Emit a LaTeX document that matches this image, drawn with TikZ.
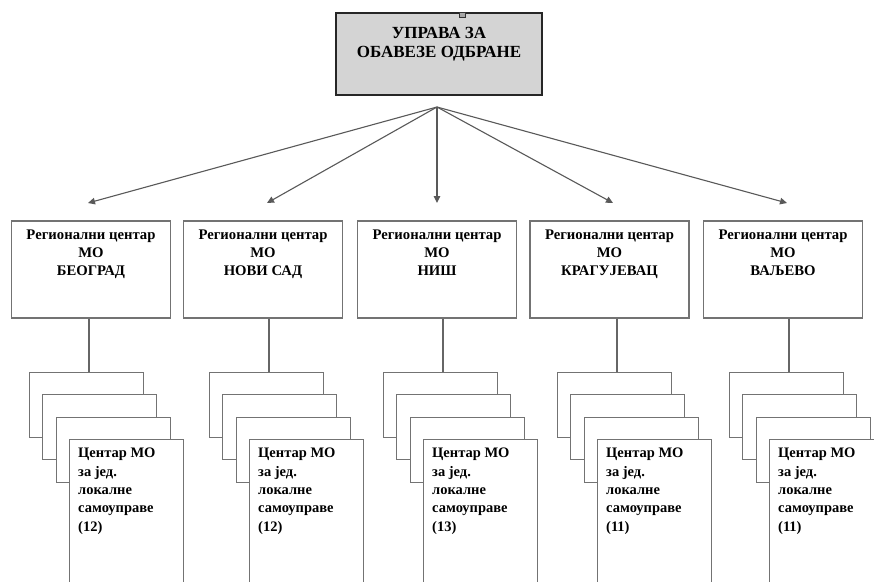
\documentclass[tikz,border=0pt]{standalone}
\usepackage{fontspec}
\setmainfont{Liberation Serif}
\usetikzlibrary{arrows.meta}
\begin{document}
\begin{tikzpicture}[x=1pt,y=-1pt,
  topbox/.style={draw=black!85, line width=2pt, fill=black!17, minimum width=206pt, minimum height=82pt, inner sep=0pt},
  handle/.style={draw=black!80, line width=0.8pt, fill=black!35, minimum width=6pt, minimum height=5pt, inner sep=0pt},
  regbox/.style={draw=black!55, line width=1.3pt, fill=white, minimum width=159pt, minimum height=97pt, inner sep=0pt},
  backcard/.style={draw=black!55, line width=1.3pt, fill=white, minimum width=114pt, minimum height=65pt, inner sep=0pt, anchor=north west},
  frontcard/.style={draw=black!55, line width=1.3pt, fill=white, minimum width=114pt, minimum height=170pt, inner sep=0pt, anchor=north west},
  toptext/.style={font=\bfseries\fontsize{17}{18.5}\selectfont, align=center, inner sep=0pt, anchor=north},
  regtext/.style={font=\bfseries\fontsize{14.7}{18}\selectfont, align=center, inner sep=0pt, anchor=north},
  cardtext/.style={font=\bfseries\fontsize{14.5}{18.3}\selectfont, align=left, inner sep=0pt, anchor=north west},
  conn/.style={draw=black!60, line width=1.1pt},
  arr/.style={draw=black!65, line width=1.1pt, -{Triangle[length=7pt,width=6.5pt]}}
]
\clip (0,0) rectangle (874,581);
\fill[white] (0,0) rectangle (874,581);

% top box
\node[topbox] (top) at (439,54) {};
\node[handle] (hd) at (462,14.5) {};
\node[toptext] (topt) at ([yshift=-15.5pt]top.north) {УПРАВА ЗА\\ОБАВЕЗЕ ОДБРАНЕ};
\coordinate (apex) at (437,107);

\foreach \i/\bx/\tx/\cx/\name/\n in {
  1/91/88/89/БЕОГРАД/12,
  2/263/267/269/НОВИ САД/12,
  3/437/437/443/НИШ/13,
  4/609.5/613/617/КРАГУЈЕВАЦ/11,
  5/783/787/789/ВАЉЕВО/11}{
  \node[regbox] (r\i) at (\bx,269.5) {};
  \node[regtext] (rt\i) at ([yshift=-9pt]r\i.north) {Регионални центар\\МО\\\name};
  \coordinate (t\i) at (\tx,203);
  \draw[arr] (apex) -- (t\i);
  \coordinate (k\i) at (\cx,340);
  \node[backcard] (a\i) at (\cx-60,372) {};
  \node[backcard] (b\i) at (\cx-47,394) {};
  \node[backcard] (c\i) at (\cx-33,417) {};
  \node[frontcard] (f\i) at (\cx-20,439) {};
  \node[cardtext] (ft\i) at ([xshift=9pt,yshift=-9pt]f\i.north west) {Центар МО\\за јед.\\локалне\\самоуправе\\(\n)};
  \draw[conn] (r\i.south -| k\i) -- (k\i |- a\i.north);
}
\end{tikzpicture}
\end{document}
